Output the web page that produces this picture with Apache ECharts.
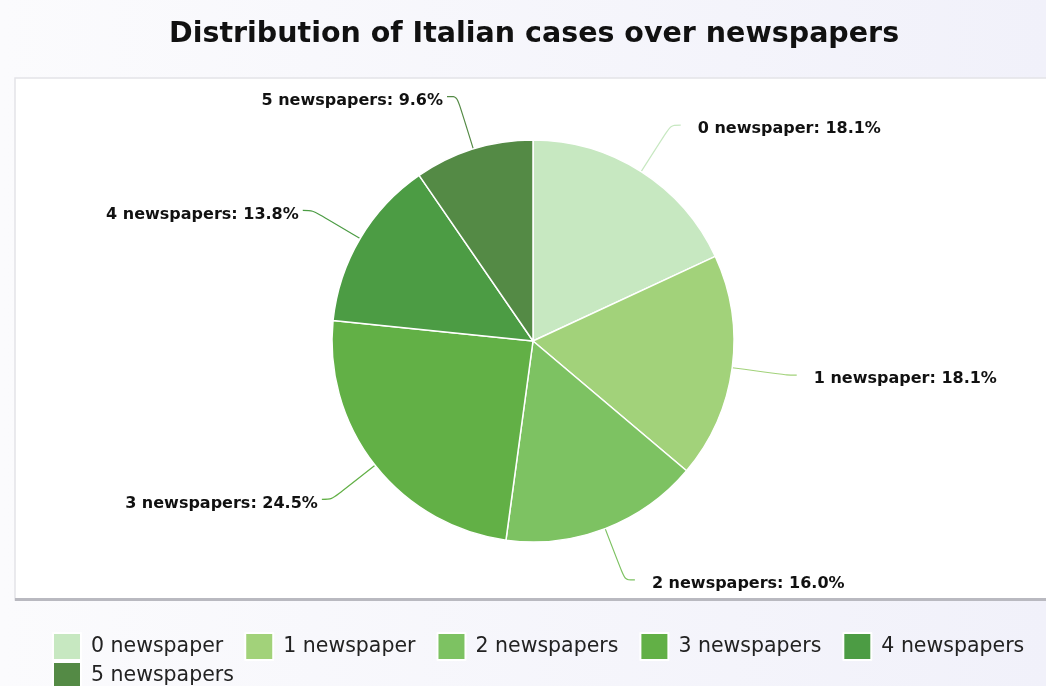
<!DOCTYPE html>
<html>
<head>
<meta charset="utf-8">
<style>
  html, body { margin: 0; padding: 0; background: #f4f4fa; }
  #chart { width: 1046px; height: 686px; }
</style>
<script src="https://cdn.jsdelivr.net/npm/echarts@6/dist/echarts.min.js"></script>
</head>
<body>
<div id="chart"></div>
<script>
// Share of Italian cases by the number of newspapers covering them
const categories = ['0 newspaper', '1 newspaper', '2 newspapers', '3 newspapers', '4 newspapers', '5 newspapers'];
const shares = [18.1, 18.1, 16.0, 24.5, 13.8, 9.6];
const sliceColors = ['#c7e8c1', '#a2d27a', '#7dc262', '#62b046', '#4c9c44', '#548a45'];

const chart = echarts.init(document.getElementById('chart'), null, { renderer: 'canvas' });

const pieData = categories.map((name, i) => ({
  name: name,
  value: shares[i],
  itemStyle: { color: sliceColors[i] },
  labelLine: { lineStyle: { color: sliceColors[i] } }
}));

chart.setOption({
  backgroundColor: {
    type: 'linear', x: 0, y: 0, x2: 1, y2: 0,
    colorStops: [{ offset: 0, color: '#fbfbfd' }, { offset: 1, color: '#f1f1fa' }]
  },
  animation: false,
  title: {
    text: 'Distribution of Italian cases over newspapers',
    left: 164,
    top: 15,
    textStyle: { fontFamily: 'DejaVu Sans', fontWeight: 'bold', fontSize: 28.5, color: '#111111' }
  },
  graphic: [
    {
      type: 'rect', z: -1,
      shape: { x: 15, y: 78, width: 1040, height: 522 },
      style: { fill: '#ffffff', stroke: '#e4e4e8', lineWidth: 1.5 }
    },
    {
      type: 'rect', z: -1,
      shape: { x: 15, y: 598, width: 1040, height: 3 },
      style: { fill: '#b9b9c0' }
    }
  ],
  legend: {
    data: categories,
    left: 47,
    top: 627,
    width: 1040,
    orient: 'horizontal',
    itemWidth: 28,
    itemHeight: 27,
    itemGap: 0,
    icon: 'rect',
    textStyle: {
      fontFamily: 'DejaVu Sans', fontSize: 20.5, color: '#222222',
      lineHeight: 27, padding: [0, 21, 0, 5]
    }
  },
  series: [{
    type: 'pie',
    center: [533, 341],
    radius: 201,
    startAngle: 90,
    clockwise: true,
    data: pieData,
    itemStyle: { borderColor: '#ffffff', borderWidth: 1.5 },
    label: {
      show: true,
      position: 'outside',
      distanceToLabelLine: 4,
      padding: [0, 0, 0, 13],
      formatter: p => p.name + ': ' + p.value.toFixed(1) + '%',
      fontFamily: 'DejaVu Sans',
      fontWeight: 'bold',
      fontSize: 16,
      color: '#111111'
    },
    labelLayout: { dy: 4 },
    labelLine: { show: true, length: 55, length2: 10, smooth: 0.3, lineStyle: { width: 1.2 } },
    emphasis: { disabled: true }
  }]
});
</script>
</body>
</html>
